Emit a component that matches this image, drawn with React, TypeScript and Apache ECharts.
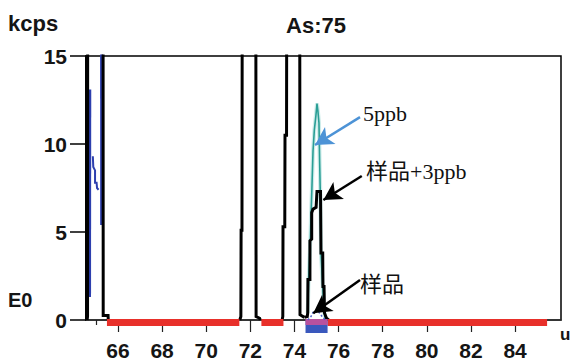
import React, { useEffect, useRef } from "react";
import * as echarts from "echarts";

// ---- axis ticks ----
const xMajorTicks = [66, 68, 70, 72, 74, 76, 78, 80, 82, 84];
const xMinorTicks = [65, 67, 69, 71, 73, 75, 77, 79, 81, 83, 85];
const X_MIN = 64.55;
const X_MAX = 86.08;
const Y_MIN = 0;
const Y_MAX = 15;
const Y_STEP = 5;

// ---- scan traces (mass u, kcps) ----
// saturated peaks (go off scale)
const black65 = [[64.6, 0], [64.62, 0.2], [64.63, 30], [65.32, 30], [65.33, 0.25], [65.55, 0.25], [65.56, 0]];
const black72 = [[71.52, 0], [71.57, 0.2], [71.58, 5.1], [71.62, 5.1], [71.64, 30], [72.24, 30], [72.26, 0.2], [72.42, 0.1], [72.45, 0]];
const black74 = [
  [73.44, 0], [73.47, 0.2], [73.48, 5.3], [73.56, 5.3], [73.57, 10.5], [73.64, 10.5], [73.66, 30],
  [74.23, 30], [74.25, 0.3], [74.45, 0.15],
];
// sample + 3 ppb at As 75
const sampleSpike = [
  [74.45, 0.15], [74.58, 0.2], [74.6, 0.4], [74.61, 2.3], [74.7, 2.3], [74.7, 4.5], [74.78, 4.6],
  [74.78, 6.1], [74.84, 6.3], [74.98, 6.4], [75.02, 7.3], [75.18, 7.3], [75.2, 3.8], [75.28, 3.8],
  [75.29, 1.9], [75.34, 1.9], [75.36, 0.4], [75.45, 0.1], [75.55, 0],
];
// 5 ppb standard
const std5ppb = [
  [74.6, 0.4], [74.64, 2.3], [74.72, 4.6], [74.75, 6.0], [74.79, 7.5], [74.84, 9.6], [74.9, 10.8],
  [74.97, 11.6], [75.02, 12.3], [75.06, 11.9], [75.11, 11.2], [75.14, 9.0], [75.17, 7.2],
  [75.2, 3.8], [75.28, 1.9], [75.35, 0.4], [75.42, 0],
];
// sample (blue)
const sampleAs = [[74.6, 0], [74.75, 0.2], [74.85, 0.45], [75.0, 0.55], [75.1, 0.45], [75.25, 0.2], [75.4, 0]];
const blue65Left = [[64.71, 1.3], [64.72, 13.1]];
const blue65Mid = [[64.86, 9.3], [64.88, 8.7], [64.96, 8.5], [64.96, 7.8], [65.03, 7.8], [65.05, 7.5], [65.12, 7.4]];
const blue65Right = [[65.25, 30], [65.26, 5.4]];

// ---- integration windows under the axis ----
const redWindows = [[65.5, 71.5], [72.5, 73.5], [75.5, 85.45]];
const blueWindow = [[74.5, 75.5]];

// ---- annotation arrows: [tailX, tailY, tipX, tipY] ----
const arrow5ppb = [76.97, 11.53, 74.93, 9.94];
const arrowSpike = [77.05, 8.18, 75.31, 6.82];
const arrowSample = [76.97, 2.27, 74.85, 0.38];

const FONT = '"Liberation Sans", Arial, sans-serif';
const SERIF = '"Liberation Serif", "Times New Roman", "Noto Sans CJK SC", serif';

function lineSeries(data: number[][], color: string, width: number, z = 2, extra: any = {}) {
  return {
    type: "line",
    data,
    showSymbol: false,
    symbol: "none",
    clip: true,
    z,
    lineStyle: { color, width, cap: "butt", join: "miter" },
    silent: true,
    ...extra,
  };
}

function arrowLine(a: number[], color: string) {
  return [
    { coord: [a[0], a[1]], symbol: "none" },
    { coord: [a[2], a[3]], symbol: "arrow", symbolSize: [15, 18], lineStyle: { color, width: 2.5, type: "solid" } },
  ];
}

export default function App() {
  const ref = useRef<HTMLDivElement>(null);
  useEffect(() => {
    if (!ref.current) return;
    const chart = echarts.init(ref.current, undefined, { renderer: "svg" });

    const bandSeries = (data: number[][], kind: "red" | "blue") => ({
      type: "custom",
      data,
      clip: false,
      z: 3,
      silent: true,
      encode: { x: [0, 1] },
      renderItem: (params: any, api: any) => {
        const p0 = api.coord([api.value(0), 0]);
        const p1 = api.coord([api.value(1), 0]);
        const w = p1[0] - p0[0];
        if (kind === "red") {
          return { type: "rect", shape: { x: p0[0], y: p0[1] - 1, width: w, height: 7 }, style: { fill: "#e8302a" } };
        }
        return {
          type: "group",
          children: [
            { type: "rect", shape: { x: p0[0], y: p0[1] - 1, width: w, height: 14 }, style: { fill: "#3a58bd" } },
            { type: "rect", shape: { x: p0[0], y: p0[1] - 1, width: w, height: 6 }, style: { fill: "#b8519e" } },
          ],
        };
      },
    });

    chart.setOption({
      animation: false,
      backgroundColor: "#ffffff",
      grid: {
        left: 86,
        top: 56,
        right: 10,
        bottom: 41,
        show: true,
        borderColor: "#000",
        borderWidth: 1.5,
        backgroundColor: "transparent",
      },
      xAxis: [
        {
          type: "value",
          min: X_MIN,
          max: X_MAX,
          position: "bottom",
          splitLine: { show: false },
          axisLine: { show: true, lineStyle: { color: "#333", width: 1.5 } },
          axisTick: { show: true, customValues: xMajorTicks, length: 12, lineStyle: { color: "#222", width: 1.2 } },
          axisLabel: {
            customValues: xMajorTicks,
            margin: 20,
            fontSize: 21,
            fontWeight: "bold",
            fontFamily: FONT,
            color: "#151515",
          },
        },
        {
          type: "value",
          min: X_MIN,
          max: X_MAX,
          position: "bottom",
          splitLine: { show: false },
          axisLine: { show: false },
          axisTick: { show: true, customValues: xMinorTicks, length: 5, lineStyle: { color: "#222", width: 1.2 } },
          axisLabel: { show: false },
        },
      ],
      yAxis: {
        type: "value",
        min: Y_MIN,
        max: Y_MAX,
        interval: Y_STEP,
        splitLine: { show: false },
        axisLine: { show: true, lineStyle: { color: "#000", width: 2 } },
        axisTick: { show: true, length: 16, lineStyle: { color: "#000", width: 1.5 } },
        axisLabel: { margin: 19, fontSize: 21, fontWeight: "bold", fontFamily: FONT, color: "#151515" },
      },
      series: [
        lineSeries(blue65Left, "#2d3fae", 3),
        lineSeries(blue65Mid, "#2d3fae", 2),
        lineSeries(blue65Right, "#2d3fae", 3),
        lineSeries(std5ppb, "#cdeceA", 4),
        lineSeries(std5ppb, "#2a9e95", 1.6),
        lineSeries(black65, "#000", 3),
        lineSeries(black72, "#000", 3),
        lineSeries(black74, "#000", 3),
        lineSeries(sampleSpike, "#000", 3),
        bandSeries(redWindows, "red"),
        bandSeries(blueWindow, "blue"),
        lineSeries(sampleAs, "#4a5fc8", 1.5, 4, {
          lineStyle: { color: "#4a5fc8", width: 1.5, type: [2, 2] },
          markLine: {
            silent: true,
            animation: false,
            label: { show: false },
            emphasis: { disabled: true },
            lineStyle: { type: "solid", width: 2.5 },
            data: [
              arrowLine(arrow5ppb, "#4d93d6"),
              arrowLine(arrowSpike, "#000"),
              arrowLine(arrowSample, "#000"),
            ],
          },
        }),
      ],
      graphic: [
        { type: "text", x: 8, y: 23, style: { text: "kcps", fontSize: 22, fontWeight: "bold", fontFamily: FONT, fill: "#151515", align: "left", verticalAlign: "middle" } },
        { type: "text", x: 316, y: 25, style: { text: "As:75", fontSize: 22, fontWeight: "bold", fontFamily: FONT, fill: "#151515", align: "center", verticalAlign: "middle" } },
        { type: "text", x: 8, y: 300, style: { text: "E0", fontSize: 20, fontWeight: "bold", fontFamily: FONT, fill: "#151515", align: "left", verticalAlign: "middle" } },
        { type: "text", x: 560, y: 334, style: { text: "u", fontSize: 17, fontWeight: "bold", fontFamily: FONT, fill: "#151515", align: "left", verticalAlign: "middle" } },
        { type: "text", x: 363, y: 113, style: { text: "5ppb", fontSize: 22, fontFamily: SERIF, fill: "#111", align: "left", verticalAlign: "middle" } },
        { type: "text", x: 366, y: 171, style: { text: "样品+3ppb", fontSize: 22, fontFamily: SERIF, fill: "#111", align: "left", verticalAlign: "middle" } },
        { type: "text", x: 360, y: 284, style: { text: "样品", fontSize: 22, fontFamily: SERIF, fill: "#111", align: "left", verticalAlign: "middle" } },
      ],
    });
    return () => chart.dispose();
  }, []);
  return <div ref={ref} style={{ width: 571, height: 361, position: "absolute", left: 0, top: 0 }} />;
}
